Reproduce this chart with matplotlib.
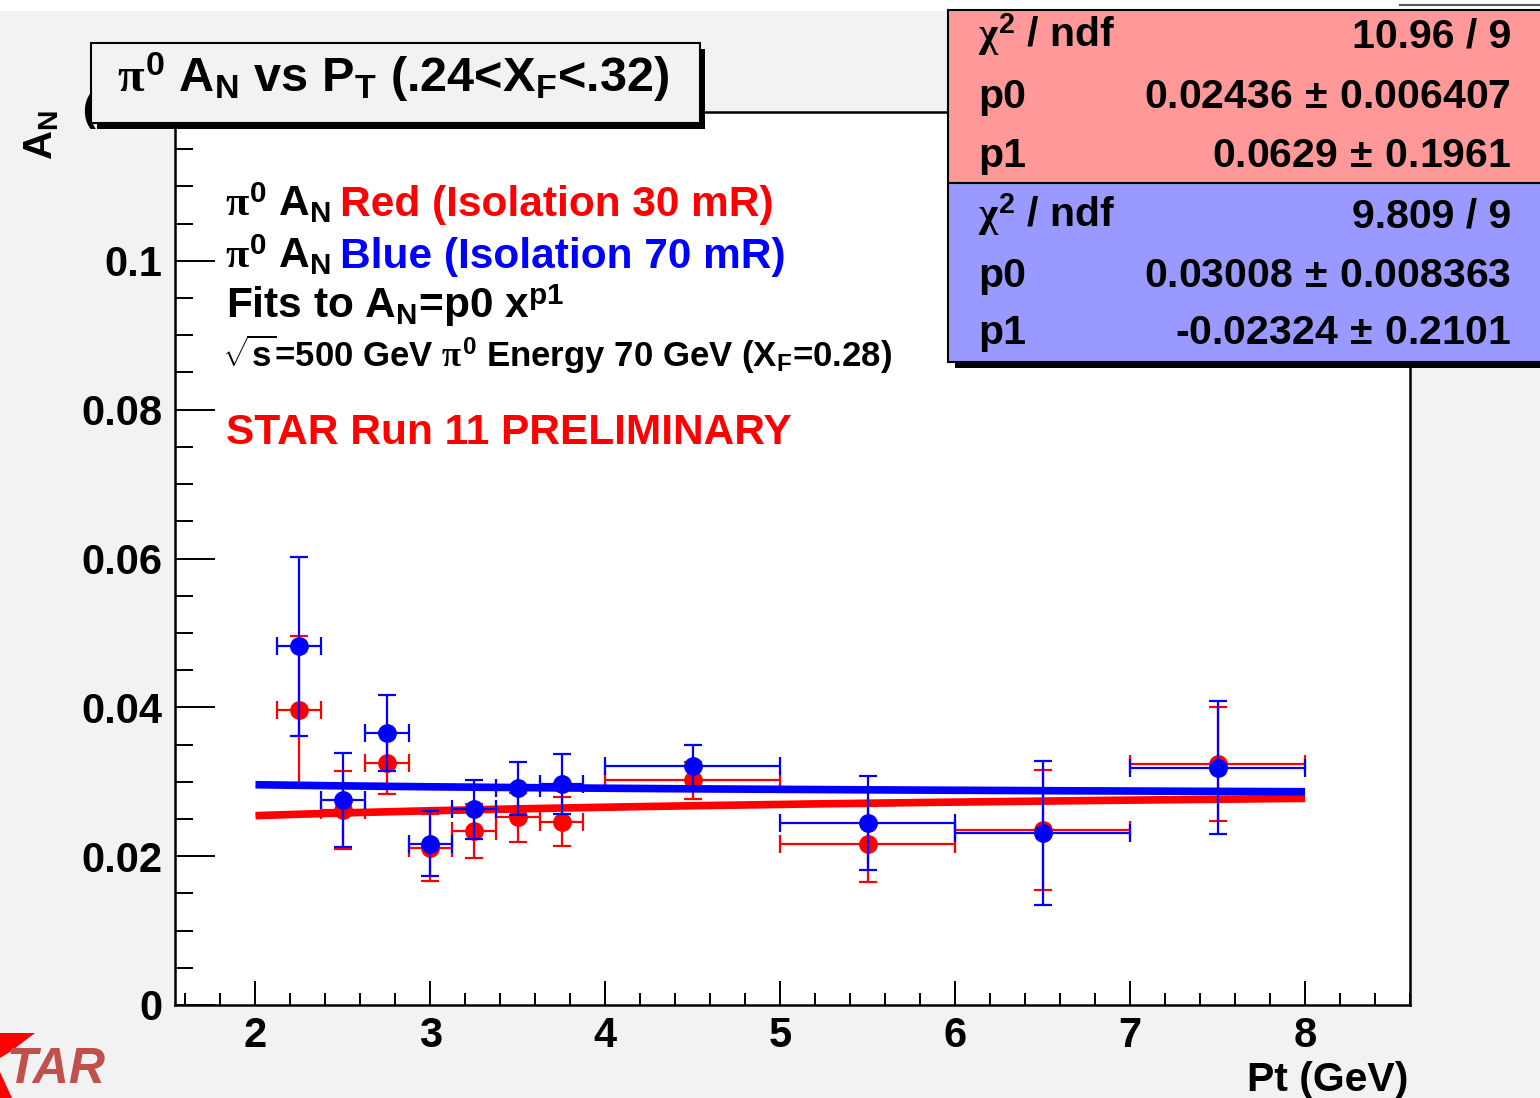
import numpy as np
import matplotlib
matplotlib.use("Agg")
import matplotlib.pyplot as plt
from matplotlib.patches import Rectangle, Polygon
from matplotlib.ticker import MultipleLocator, FixedLocator, FixedFormatter

# ---- data -------------------------------------------------------------
pt = [2.25, 2.5, 2.75, 3.0, 3.25, 3.5, 3.75, 4.5, 5.5, 6.5, 7.5]
pt_err = [0.125, 0.125, 0.125, 0.125, 0.125, 0.125, 0.125, 0.5, 0.5, 0.5, 0.5]

an_red = [0.0396, 0.0262, 0.0325, 0.0211, 0.0234, 0.0252, 0.0246, 0.0302, 0.0216, 0.0235, 0.0324]
an_red_err = [0.0100, 0.0052, 0.0042, 0.0045, 0.0036, 0.0033, 0.0033, 0.0025, 0.0051, 0.0081, 0.0077]

an_blue = [0.0482, 0.0275, 0.0365, 0.0217, 0.0263, 0.0291, 0.0297, 0.0321, 0.0245, 0.0231, 0.0319]
an_blue_err = [0.0120, 0.0063, 0.0051, 0.0044, 0.0040, 0.0036, 0.0040, 0.0029, 0.0063, 0.0097, 0.0089]

# power-law fit results A_N = p0 * x^p1
fit_red = {"chi2": "10.96 / 9", "p0": 0.02436, "p0_err": 0.006407, "p1": 0.0629, "p1_err": 0.1961}
fit_blue = {"chi2": "9.809 / 9", "p0": 0.03008, "p0_err": 0.008363, "p1": -0.02324, "p1_err": 0.2101}
fit_range = [2.0, 8.0]

x_ticks = [2, 3, 4, 5, 6, 7, 8]
x_tick_labels = ["2", "3", "4", "5", "6", "7", "8"]
y_ticks = [0, 0.02, 0.04, 0.06, 0.08, 0.10]
y_tick_labels = ["0", "0.02", "0.04", "0.06", "0.08", "0.1"]

# ---- style ------------------------------------------------------------
plt.rcParams["font.family"] = ["Liberation Sans", "DejaVu Sans"]
plt.rcParams["font.weight"] = "bold"
plt.rcParams["mathtext.fontset"] = "custom"
plt.rcParams["mathtext.rm"] = "Liberation Sans:bold"
plt.rcParams["mathtext.bf"] = "Liberation Sans:bold"
plt.rcParams["mathtext.sf"] = "Liberation Sans:bold"
plt.rcParams["mathtext.it"] = "Liberation Serif"

W, H = 1540, 1098
BG = "#f2f2f2"
RED = "#ff0000"
BLUE = "#0000ff"

fig = plt.figure(figsize=(W / 100, H / 100), dpi=100, facecolor=BG)


def fx(px):
    return px / W


def fy(py):
    return 1 - py / H


def frect(x0, y0, x1, y1, **kw):
    r = Rectangle((fx(x0), fy(y1)), fx(x1) - fx(x0), fy(y0) - fy(y1),
                  transform=fig.transFigure, **kw)
    fig.add_artist(r)
    return r


def ftext(px, py, s, **kw):
    return fig.text(fx(px), fy(py), s, **kw)


# top strip
frect(0, 0, W, 11, facecolor="white", edgecolor="none", zorder=1)
fig.add_artist(plt.Line2D([fx(1400), fx(W)], [fy(5), fy(5)], transform=fig.transFigure,
                          color="#555555", lw=1.5, zorder=1))

# ---- axes -------------------------------------------------------------
ax = fig.add_axes([fx(175), fy(1005), fx(1410) - fx(175), fy(112) - fy(1005)])
ax.set_facecolor("white")
ax.set_xlim(1.54, 8.6)
ax.set_ylim(0, 0.12)

for s in ax.spines.values():
    s.set_linewidth(1.8)
    s.set_color("black")

ax.xaxis.set_major_locator(FixedLocator(x_ticks))
ax.xaxis.set_major_formatter(FixedFormatter(x_tick_labels))
ax.xaxis.set_minor_locator(MultipleLocator(0.2))
ax.yaxis.set_major_locator(FixedLocator(y_ticks))
ax.yaxis.set_major_formatter(FixedFormatter(y_tick_labels))
ax.yaxis.set_minor_locator(MultipleLocator(0.005))

ax.tick_params(axis="y", which="major", direction="in", length=29, width=1.4,
               left=True, right=False, labelsize=30, pad=9)
ax.tick_params(axis="y", which="minor", direction="in", length=13, width=1.4,
               left=True, right=False)
ax.tick_params(axis="x", which="major", direction="in", length=17, width=1.4,
               bottom=True, top=False, labelsize=30, pad=8)
ax.tick_params(axis="x", which="minor", direction="in", length=8.5, width=1.4,
               bottom=True, top=False)

# fitted curves
xs = np.linspace(fit_range[0], fit_range[1], 300)
ax.plot(xs, fit_red["p0"] * xs ** fit_red["p1"], color=RED, lw=5.5, zorder=3,
        solid_capstyle="butt")
ax.plot(xs, fit_blue["p0"] * xs ** fit_blue["p1"], color=BLUE, lw=5.5, zorder=4,
        solid_capstyle="butt")

# data points
ax.errorbar(pt, an_red, yerr=an_red_err, xerr=pt_err, fmt="o", color=RED, ms=12.5,
            elinewidth=1.6, capsize=6.5, capthick=1.6, zorder=2)
ax.errorbar(pt, an_blue, yerr=an_blue_err, xerr=pt_err, fmt="o", color=BLUE, ms=12.5,
            elinewidth=1.6, capsize=6.5, capthick=1.6, zorder=5)

# axis titles
ftext(1408, 1091, "Pt (GeV)", ha="right", va="baseline", fontsize=29.5)
ftext(61, 110, r"$\mathrm{A_{N}}$", rotation=90, ha="right", va="top", fontsize=29)

# ---- annotations inside the frame ------------------------------------
LEG = 30.5
ftext(225, 216, r"$\pi^{0}$ $\mathrm{A_{N}}$", ha="left", va="baseline", fontsize=LEG, zorder=6)
ftext(340, 216, "Red (Isolation 30 mR)", ha="left", va="baseline", fontsize=LEG,
      color=RED, zorder=6)
ftext(225, 268, r"$\pi^{0}$ $\mathrm{A_{N}}$", ha="left", va="baseline", fontsize=LEG, zorder=6)
ftext(340, 268, "Blue (Isolation 70 mR)", ha="left", va="baseline", fontsize=LEG,
      color=BLUE, zorder=6)
ftext(226, 318, r"Fits to $\mathrm{A_{N}}$=p0 x$^{\mathrm{p1}}$", ha="left", va="baseline",
      fontsize=LEG, zorder=6)
ftext(222, 367, r"$\sqrt{\mathrm{s}}$=500 GeV $\pi^{0}$ Energy 70 GeV ($\mathrm{X_{F}}$=0.28)",
      ha="left", va="baseline", fontsize=25, zorder=6)
ftext(226, 444, "STAR Run 11 PRELIMINARY", ha="left", va="baseline", fontsize=30.5,
      color=RED, zorder=6)

# ---- title box --------------------------------------------------------
ftext(82, 121, "(", ha="left", va="baseline", fontsize=28, zorder=4)
frect(97, 49, 705, 129, facecolor="black", edgecolor="none", zorder=5)
frect(91, 43, 700, 123, facecolor=BG, edgecolor="black", lw=1.5, zorder=5.1)
ftext(117, 92, r"$\pi^{0}$ $\mathrm{A_{N}}$ vs $\mathrm{P_{T}}$ (.24<$\mathrm{X_{F}}$<.32)",
      ha="left", va="baseline", fontsize=35, zorder=6)

# ---- fit statistics box ----------------------------------------------
frect(955, 16, W + 10, 368, facecolor="black", edgecolor="none", zorder=7)
frect(948, 10, W + 10, 183, facecolor="#ff9999", edgecolor="black", lw=1.5, zorder=7.1)
frect(948, 183, W + 10, 362, facecolor="#9999ff", edgecolor="black", lw=1.5, zorder=7.1)

STAT = 29.5


def stat_rows(fit, baselines):
    rows = [
        (r"$\chi^{2}$ / ndf", fit["chi2"]),
        ("p0", r"%s$\,\pm\,$%s" % (f"{fit['p0']:g}", f"{fit['p0_err']:g}")),
        ("p1", r"%s$\,\pm\,$%s" % (f"{fit['p1']:g}", f"{fit['p1_err']:g}")),
    ]
    for (lab, val), yb in zip(rows, baselines):
        ftext(978, yb, lab, ha="left", va="baseline", fontsize=STAT, zorder=8)
        ftext(1511, yb, val, ha="right", va="baseline", fontsize=STAT, zorder=8)


stat_rows(fit_red, [47, 108, 167])
stat_rows(fit_blue, [227, 287, 344])

# ---- experiment logo --------------------------------------------------
fig.add_artist(Polygon([(fx(0), fy(1033)), (fx(35), fy(1033)), (fx(10), fy(1052)), (fx(0), fy(1058))],
                       closed=True, transform=fig.transFigure, facecolor=RED, edgecolor="none", zorder=2))
fig.add_artist(Polygon([(fx(0), fy(1072)), (fx(12), fy(1098)), (fx(0), fy(1098))],
                       closed=True, transform=fig.transFigure, facecolor=RED, edgecolor="none", zorder=2))
ftext(6, 1083, "TAR", ha="left", va="baseline", fontsize=36, style="italic",
      color="#c0504d", zorder=3)

fig.savefig("out.png", dpi=100, facecolor=BG)
